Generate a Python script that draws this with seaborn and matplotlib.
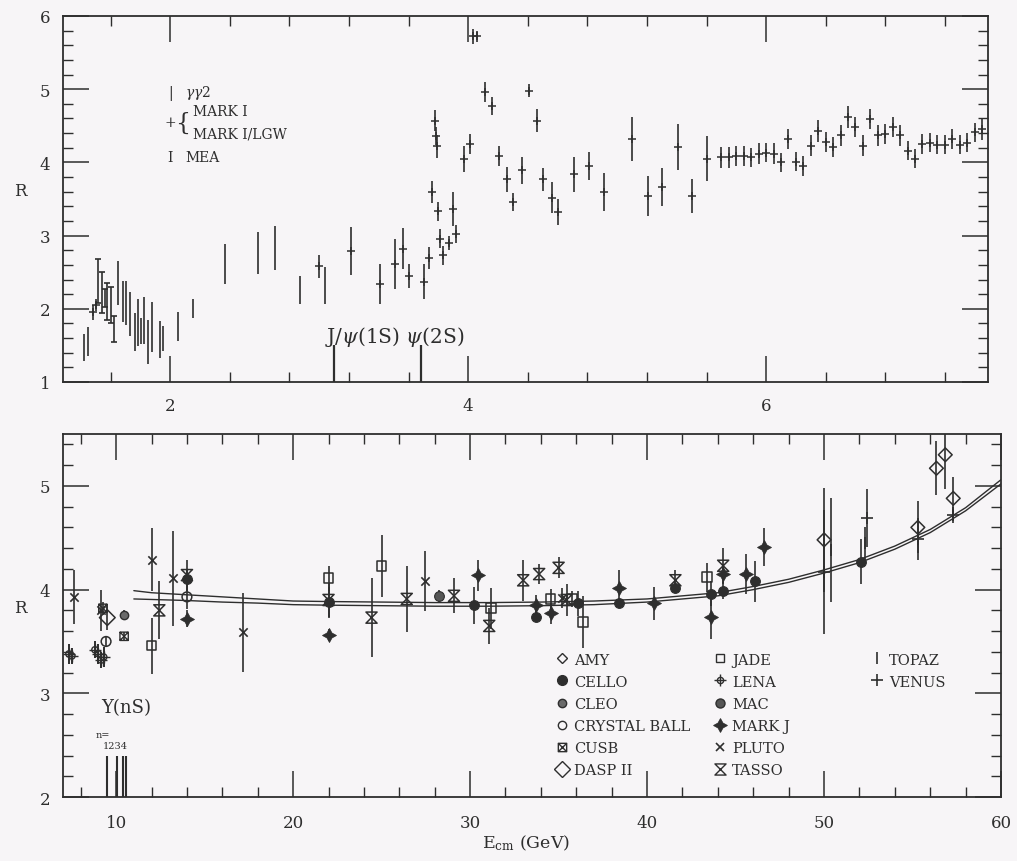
import numpy as np
import matplotlib
matplotlib.use("Agg")
import matplotlib.pyplot as plt
import seaborn as sns
from matplotlib.path import Path
from matplotlib.lines import Line2D
from matplotlib.markers import MarkerStyle

# ---------------- top panel data (E_cm in GeV, R) ----------------
gg2_x = [1.42, 1.45, 1.65, 1.68, 1.70, 1.73, 1.76, 1.785, 1.80, 1.825, 1.85, 1.88, 1.93, 1.95,
         2.05, 2.15, 2.37, 2.59, 2.70, 2.87, 3.04]
gg2_y = [1.47, 1.55, 2.35, 2.10, 2.08, 1.93, 1.68, 1.81, 1.70, 1.84, 1.55, 1.75, 1.58, 1.59,
         1.76, 2.00, 2.61, 2.76, 2.83, 2.26, 2.32]
gg2_e = [0.18, 0.20, 0.30, 0.28, 0.30, 0.30, 0.26, 0.32, 0.18, 0.32, 0.30, 0.34, 0.25, 0.17,
         0.20, 0.13, 0.27, 0.29, 0.30, 0.19, 0.25]

mea_x = [1.515, 1.54, 1.56, 1.575, 1.60, 1.62]
mea_y = [2.38, 2.22, 2.15, 2.10, 2.05, 1.72]
mea_e = [0.30, 0.28, 0.12, 0.25, 0.25, 0.18]

mark1_x = [1.48, 1.50, 3.00, 3.21, 3.41, 3.51, 3.56, 3.60, 3.70, 3.74, 3.76, 3.78, 3.785, 3.79,
           3.80, 3.81, 3.83, 3.87, 3.90, 3.92, 3.97, 4.01, 4.03, 4.06, 4.11, 4.16, 4.21, 4.26,
           4.30, 4.36, 4.41, 4.46, 4.50, 4.56, 4.60, 4.71, 4.81, 4.91, 5.10, 5.21, 5.30, 5.41,
           5.50, 5.60]
mark1_y = [1.95, 2.05, 2.58, 2.79, 2.34, 2.61, 2.82, 2.45, 2.37, 2.69, 3.60, 4.57, 4.36, 4.22,
           3.33, 2.96, 2.73, 2.90, 3.36, 3.02, 4.05, 4.25, 5.72, 5.72, 4.96, 4.77, 4.09, 3.77,
           3.46, 3.89, 4.98, 4.57, 3.77, 3.52, 3.32, 3.84, 3.95, 3.59, 4.32, 3.54, 3.66, 4.21,
           3.54, 4.05]
mark1_e = [0.10, 0.08, 0.16, 0.33, 0.27, 0.34, 0.28, 0.16, 0.24, 0.15, 0.15, 0.14, 0.12, 0.16,
           0.13, 0.13, 0.13, 0.10, 0.23, 0.12, 0.18, 0.14, 0.10, 0.08, 0.14, 0.12, 0.14, 0.17,
           0.12, 0.18, 0.09, 0.16, 0.16, 0.21, 0.18, 0.24, 0.19, 0.26, 0.30, 0.27, 0.26, 0.31,
           0.23, 0.31]

lgw_x = [5.70, 5.75, 5.80, 5.85, 5.90, 5.95, 6.00, 6.05, 6.10, 6.15, 6.20, 6.25, 6.30, 6.35,
         6.40, 6.45, 6.50, 6.55, 6.60, 6.65, 6.70, 6.75, 6.80, 6.85, 6.90, 6.95, 7.00, 7.05,
         7.10, 7.15, 7.20, 7.25, 7.30, 7.35, 7.40, 7.45]
lgw_y = [4.07, 4.07, 4.09, 4.09, 4.07, 4.12, 4.13, 4.12, 4.00, 4.32, 4.01, 3.95, 4.23, 4.43,
         4.28, 4.21, 4.37, 4.62, 4.48, 4.23, 4.59, 4.37, 4.39, 4.48, 4.37, 4.16, 4.05, 4.25,
         4.27, 4.24, 4.24, 4.32, 4.24, 4.27, 4.41, 4.45]
lgw_e = [0.14, 0.14, 0.14, 0.14, 0.13, 0.14, 0.13, 0.14, 0.13, 0.14, 0.13, 0.14, 0.14, 0.15,
         0.14, 0.13, 0.14, 0.15, 0.14, 0.14, 0.14, 0.14, 0.14, 0.14, 0.14, 0.13, 0.13, 0.14,
         0.13, 0.13, 0.13, 0.14, 0.13, 0.13, 0.13, 0.14]

psi_x = [3.097, 3.686]
psi_top = [1.5, 1.5]

# ---------------- bottom panel data (E_cm in GeV, R) ----------------
amy_x = [50.0, 55.3, 56.35, 56.85, 57.3]
amy_y = [4.48, 4.60, 5.17, 5.30, 4.88]
amy_e = [0.50, 0.25, 0.26, 0.33, 0.21]

cello_x = [14.0, 22.0, 30.2, 33.75, 36.1, 38.4, 41.6, 43.6, 44.3, 46.1, 52.1]
cello_y = [4.10, 3.88, 3.85, 3.74, 3.87, 3.87, 4.02, 3.96, 3.99, 4.08, 4.27]
cello_e = [0.10, 0.15, 0.18, 0.05, 0.12, 0.05, 0.05, 0.12, 0.08, 0.20, 0.22]

cleo_x = [10.45]
cleo_y = [3.76]
cleo_e = [0.04]

crystal_x = [9.43, 14.0]
crystal_y = [3.50, 3.93]
crystal_e = [0.05, 0.12]

cusb_x = [9.25, 10.45]
cusb_y = [3.82, 3.55]
cusb_e = [0.06, 0.04]

dasp_x = [9.5]
dasp_y = [3.73]
dasp_e = [0.12]

jade_x = [12.0, 22.0, 25.0, 31.2, 34.55, 35.74, 36.36, 43.4]
jade_y = [3.46, 4.11, 4.23, 3.82, 3.91, 3.91, 3.69, 4.12]
jade_e = [0.27, 0.12, 0.30, 0.20, 0.10, 0.08, 0.25, 0.14]

lena_x = [7.33, 7.50, 8.80, 9.00, 9.15, 9.30]
lena_y = [3.38, 3.36, 3.42, 3.38, 3.32, 3.35]
lena_e = [0.10, 0.08, 0.08, 0.10, 0.08, 0.10]

mac_x = [28.24]
mac_y = [3.94]
mac_e = [0.06]

markj_x = [14.0, 22.0, 30.45, 33.75, 34.55, 38.4, 40.4, 43.6, 44.3, 45.6, 46.6]
markj_y = [3.72, 3.56, 4.14, 3.85, 3.77, 4.02, 3.87, 3.74, 4.15, 4.15, 4.41]
markj_e = [0.08, 0.06, 0.15, 0.10, 0.10, 0.17, 0.16, 0.22, 0.10, 0.19, 0.18]

pluto_x = [7.61, 9.15, 12.0, 13.2, 17.16, 27.44, 35.2]
pluto_y = [3.93, 3.80, 4.29, 4.11, 3.59, 4.08, 3.92]
pluto_e = [0.26, 0.20, 0.30, 0.46, 0.38, 0.29, 0.10]

tasso_x = [12.44, 14.0, 22.0, 24.43, 26.42, 29.09, 31.08, 33.0, 33.9, 35.0, 35.45, 41.6, 44.3]
tasso_y = [3.80, 4.14, 3.90, 3.73, 3.91, 3.94, 3.65, 4.09, 4.15, 4.21, 3.90, 4.09, 4.23]
tasso_e = [0.28, 0.15, 0.16, 0.38, 0.32, 0.17, 0.17, 0.20, 0.10, 0.10, 0.15, 0.10, 0.17]

topaz_x = [50.4, 52.3]
topaz_y = [4.38, 4.45]
topaz_e = [0.50, 0.15]

venus_x = [50.0, 52.4, 55.3, 57.3]
venus_y = [4.17, 4.69, 4.49, 4.72]
venus_e = [0.60, 0.28, 0.20, 0.08]

curve_x = [11, 12, 14, 16, 18, 20, 22, 25, 28, 31, 34, 37, 40, 42, 44, 46, 48, 50, 52, 54, 56, 58, 60]
curve_hi = [3.99, 3.97, 3.95, 3.93, 3.91, 3.89, 3.885, 3.88, 3.875, 3.875, 3.88, 3.89, 3.91, 3.94,
            3.97, 4.03, 4.10, 4.19, 4.29, 4.42, 4.58, 4.79, 5.06]
curve_lo = [3.91, 3.905, 3.895, 3.88, 3.87, 3.855, 3.85, 3.845, 3.84, 3.84, 3.845, 3.855, 3.88,
            3.91, 3.94, 4.00, 4.07, 4.16, 4.26, 4.39, 4.55, 4.76, 5.02]

ups_x = [9.46, 10.02, 10.36, 10.58]
ups_top = [2.4, 2.4, 2.4, 2.4]

# ---------------- style ----------------
INK = "#2e2e2e"
BG = "#f7f5f7"

sns.set_theme(style="ticks")
plt.rcParams.update({
    "font.family": ["DejaVu Serif"],
    "mathtext.fontset": "dejavuserif",
    "axes.edgecolor": INK, "xtick.color": INK, "ytick.color": INK,
    "text.color": INK, "axes.labelcolor": INK, "axes.linewidth": 1.3,
    "figure.facecolor": BG, "axes.facecolor": BG, "savefig.facecolor": BG,
})

M, L, C = Path.MOVETO, Path.LINETO, Path.CLOSEPOLY
CUSB_MARK = Path([(-1, -1), (1, -1), (1, 1), (-1, 1), (-1, -1), (-1, -1), (1, 1), (-1, 1), (1, -1)],
                 [M, L, L, L, C, M, L, M, L])
TASSO_MARK = Path([(-1, 1), (1, 1), (-1, -1), (1, -1), (-1, 1)], [M, L, L, L, C])
STAR4 = (4, 1, 0)


def draw_points(ax, x, y, e, marker=None, size=6, face=INK, edge=INK, lw=1.0, cap=0, z=3):
    ax.errorbar(x, y, yerr=e, fmt="none", ecolor=INK, elinewidth=1.2,
                capsize=cap, capthick=1.2, zorder=2)
    if marker is None:
        return
    kws = dict(x=list(x), y=list(y), ax=ax, marker=marker, s=size ** 2,
               linewidth=lw, legend=False, zorder=z)
    if MarkerStyle(marker).is_filled():
        sns.scatterplot(**kws, color=edge, facecolor=face, edgecolor=edge)
    else:
        sns.scatterplot(**kws, color=face)


fig = plt.figure(figsize=(10.17, 8.62), dpi=100)
ax1 = fig.add_axes([0.062, 0.5557, 0.9095, 0.4246])
ax2 = fig.add_axes([0.062, 0.0742, 0.9223, 0.4211])

# ---------------- top panel ----------------
draw_points(ax1, gg2_x, gg2_y, gg2_e)
draw_points(ax1, mea_x, mea_y, mea_e, cap=2.5)
draw_points(ax1, mark1_x, mark1_y, mark1_e, marker="+", size=6, lw=1.1)
draw_points(ax1, lgw_x, lgw_y, lgw_e, marker="+", size=6, lw=1.1)
ax1.vlines(psi_x, 1, psi_top, color=INK, lw=1.6)
ax1.text(3.505, 1.63, r"J/$\psi$(1S) $\psi$(2S)", ha="center", va="center", fontsize=14.5)

ax1.set_xlim(1.28, 7.49)
ax1.set_ylim(1, 6)
ax1.set_xticks([2, 4, 6])
ax1.set_xticks(np.arange(1.6, 7.5, 0.4), minor=True)
ax1.set_yticks([1, 2, 3, 4, 5, 6])
ax1.set_yticks(np.arange(1, 6.01, 0.2), minor=True)
ax1.set_ylabel("R", rotation=0, fontsize=12)
ax1.yaxis.set_label_coords(-0.046, 0.5)

tr = ax1.transAxes
ax1.text(0.116, 0.792, "|", transform=tr, ha="center", va="center", fontsize=10)
ax1.text(0.132, 0.792, r"$\gamma\gamma$2", transform=tr, ha="left", va="center", fontsize=10)
ax1.text(0.116, 0.710, "+", transform=tr, ha="center", va="center", fontsize=10)
ax1.text(0.129, 0.709, "{", transform=tr, ha="center", va="center", fontsize=17)
ax1.text(0.141, 0.740, "MARK I", transform=tr, ha="left", va="center", fontsize=10)
ax1.text(0.141, 0.678, "MARK I/LGW", transform=tr, ha="left", va="center", fontsize=10)
ax1.text(0.116, 0.615, "I", transform=tr, ha="center", va="center", fontsize=10)
ax1.text(0.132, 0.615, "MEA", transform=tr, ha="left", va="center", fontsize=10)

# ---------------- bottom panel ----------------
sns.lineplot(x=curve_x, y=curve_hi, ax=ax2, color=INK, lw=1.0, sort=False, estimator=None)
sns.lineplot(x=curve_x, y=curve_lo, ax=ax2, color=INK, lw=1.0, sort=False, estimator=None)

draw_points(ax2, amy_x, amy_y, amy_e, marker="D", size=7, face="none", lw=1.1)
draw_points(ax2, cello_x, cello_y, cello_e, marker="o", size=7, face=INK, lw=0.8)
draw_points(ax2, cleo_x, cleo_y, cleo_e, marker="o", size=6, face="#6a6a6a", lw=1.0)
draw_points(ax2, crystal_x, crystal_y, crystal_e, marker="o", size=7, face="none", lw=1.1)
draw_points(ax2, cusb_x, cusb_y, cusb_e, marker=CUSB_MARK, size=6, face="none", lw=1.0)
draw_points(ax2, dasp_x, dasp_y, dasp_e, marker="D", size=8, face="none", lw=1.1)
draw_points(ax2, jade_x, jade_y, jade_e, marker="s", size=7, face="none", lw=1.1)
draw_points(ax2, lena_x, lena_y, lena_e, marker="o", size=4.5, face="none", lw=1.0)
draw_points(ax2, lena_x, lena_y, lena_e, marker="+", size=8, lw=1.0)
draw_points(ax2, mac_x, mac_y, mac_e, marker="o", size=7, face="#555555", lw=0.8)
draw_points(ax2, markj_x, markj_y, markj_e, marker=STAR4, size=10, face=INK, lw=0.6)
draw_points(ax2, pluto_x, pluto_y, pluto_e, marker="x", size=6, lw=1.2)
draw_points(ax2, tasso_x, tasso_y, tasso_e, marker=TASSO_MARK, size=8, face="none", lw=1.1)
draw_points(ax2, topaz_x, topaz_y, topaz_e, marker="|", size=9, lw=1.2)
draw_points(ax2, venus_x, venus_y, venus_e, marker="+", size=9, lw=1.2)

ax2.vlines(ups_x, 2, ups_top, color=INK, lw=1.5)
ax2.text(10.57, 2.87, "Υ(nS)", ha="center", va="center", fontsize=13)
ax2.text(9.26, 2.60, "n=", ha="center", va="center", fontsize=7)
ax2.text(9.95, 2.50, "1234", ha="center", va="center", fontsize=7)

ax2.set_xlim(7, 60)
ax2.set_ylim(2, 5.5)
ax2.set_xticks([10, 20, 30, 40, 50, 60])
ax2.set_xticks(np.arange(8, 60.1, 2), minor=True)
ax2.set_yticks([2, 3, 4, 5])
ax2.set_yticks(np.arange(2, 5.51, 0.2), minor=True)
ax2.set_ylabel("R", rotation=0, fontsize=12)
ax2.yaxis.set_label_coords(-0.046, 0.5)
ax2.set_xlabel(r"E$_{\rm cm}$ (GeV)", fontsize=12.5)
ax2.xaxis.set_label_coords(0.494, -0.098)

# legend (three columns)
def proxy(marker, size, face=INK, edge=INK, lw=1.0):
    return Line2D([], [], ls="none", marker=marker, markersize=size,
                  markerfacecolor=face, markeredgecolor=edge, markeredgewidth=lw)

col1 = [(proxy("D", 5, "none"), "AMY"), (proxy("o", 7), "CELLO"),
        (proxy("o", 6, "#6a6a6a"), "CLEO"), (proxy("o", 6, "none"), "CRYSTAL BALL"),
        (proxy(CUSB_MARK, 6, "none"), "CUSB"), (proxy("D", 8, "none"), "DASP II")]
col2 = [(proxy("s", 6, "none"), "JADE"),
        ((proxy("o", 4.5, "none"), proxy("+", 8)), "LENA"),
        (proxy("o", 6.5, "#555555"), "MAC"), (proxy(STAR4, 10, INK, INK, 0.6), "MARK J"),
        (proxy("x", 6, lw=1.2), "PLUTO"), (proxy(TASSO_MARK, 8, "none"), "TASSO")]
col3 = [(proxy("|", 9, lw=1.2), "TOPAZ"), (proxy("+", 8, lw=1.2), "VENUS")]

legends = []
for col, xpos in [(col1, 0.5245), (col2, 0.693), (col3, 0.860)]:
    leg = ax2.legend([h for h, _ in col], [t for _, t in col], loc="upper left",
                     bbox_to_anchor=(xpos, 0.398), frameon=False, fontsize=10.5,
                     handlelength=1.0, handletextpad=0.3, labelspacing=0.55,
                     borderpad=0, borderaxespad=0)
    for t in leg.get_texts():
        t.set_color(INK)
    legends.append(leg)
for leg in legends[:-1]:
    ax2.add_artist(leg)

for ax, xpad in [(ax1, 11), (ax2, 12)]:
    ax.tick_params(which="major", direction="in", length=19, width=1.1,
                   top=True, right=True, labelsize=12, pad=xpad)
    ax.tick_params(axis="y", which="major", pad=9)
    ax.tick_params(which="minor", direction="in", length=7, width=1.0, top=True, right=True)
    for s in ax.spines.values():
        s.set_visible(True)
        s.set_color(INK)
        s.set_linewidth(1.3)

fig.savefig("out.png", dpi=100)
